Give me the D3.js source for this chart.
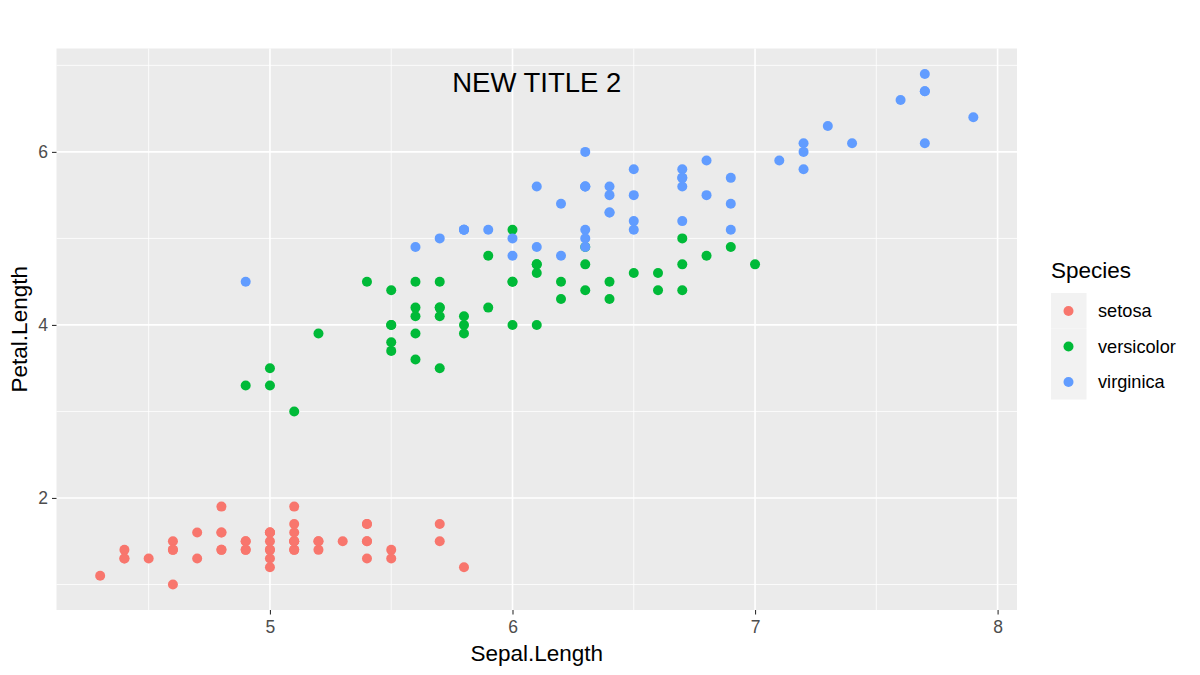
<!DOCTYPE html>
<html><head><meta charset="utf-8">
<script src="https://cdn.jsdelivr.net/npm/d3@7"></script>
<style>body{margin:0;background:#fff}svg{display:block;font-family:"Liberation Sans",Arial,sans-serif}</style>
</head><body><svg id="c" width="1200" height="675"></svg>
<script>
const species = ["setosa","versicolor","virginica"];
const colors = ["#F8766D","#00BA38","#619CFF"];
const setosaSepal = [5.1,4.9,4.7,4.6,5.0,5.4,4.6,5.0,4.4,4.9,5.4,4.8,4.8,4.3,5.8,5.7,5.4,5.1,5.7,5.1,5.4,5.1,4.6,5.1,4.8,5.0,5.0,5.2,5.2,4.7,4.8,5.4,5.2,5.5,4.9,5.0,5.5,4.9,4.4,5.1,5.0,4.5,4.4,5.0,5.1,4.8,5.1,4.6,5.3,5.0];
const setosaPetal = [1.4,1.4,1.3,1.5,1.4,1.7,1.4,1.5,1.4,1.5,1.5,1.6,1.4,1.1,1.2,1.5,1.3,1.4,1.7,1.5,1.7,1.5,1.0,1.7,1.9,1.6,1.6,1.5,1.4,1.6,1.6,1.5,1.5,1.4,1.5,1.2,1.3,1.4,1.3,1.5,1.3,1.3,1.3,1.6,1.9,1.4,1.6,1.4,1.5,1.4];
const versicolorSepal = [7.0,6.4,6.9,5.5,6.5,5.7,6.3,4.9,6.6,5.2,5.0,5.9,6.0,6.1,5.6,6.7,5.6,5.8,6.2,5.6,5.9,6.1,6.3,6.1,6.4,6.6,6.8,6.7,6.0,5.7,5.5,5.5,5.8,6.0,5.4,6.0,6.7,6.3,5.6,5.5,5.5,6.1,5.8,5.0,5.6,5.7,5.7,6.2,5.1,5.7];
const versicolorPetal = [4.7,4.5,4.9,4.0,4.6,4.5,4.7,3.3,4.6,3.9,3.5,4.2,4.0,4.7,3.6,4.4,4.5,4.1,4.5,3.9,4.8,4.0,4.9,4.7,4.3,4.4,4.8,5.0,4.5,3.5,3.8,3.7,3.9,5.1,4.5,4.5,4.7,4.4,4.1,4.0,4.4,4.6,4.0,3.3,4.2,4.2,4.2,4.3,3.0,4.1];
const virginicaSepal = [6.3,5.8,7.1,6.3,6.5,7.6,4.9,7.3,6.7,7.2,6.5,6.4,6.8,5.7,5.8,6.4,6.5,7.7,7.7,6.0,6.9,5.6,7.7,6.3,6.7,7.2,6.2,6.1,6.4,7.2,7.4,7.9,6.3,6.3,6.1,7.7,6.3,6.4,6.0,6.9,6.7,6.9,5.8,6.8,6.7,6.7,6.3,6.5,6.2,5.9];
const virginicaPetal = [6.0,5.1,5.9,5.6,5.8,6.6,4.5,6.3,5.8,6.1,5.1,5.3,5.5,5.0,5.1,5.3,5.5,6.7,6.9,5.0,5.7,4.9,6.7,4.9,5.7,6.0,4.8,4.9,5.6,5.8,6.1,6.4,5.6,5.1,5.6,6.1,5.6,5.5,4.8,5.4,5.6,5.1,5.1,5.9,5.7,5.2,5.0,5.2,5.4,5.1];
const xTicks = [5,6,7,8];
const yTicks = [2,4,6];
const xMinor = [4.5,5.5,6.5,7.5];
const yMinor = [1,3,5,7];
const title = "NEW TITLE 2";

const sepal = [setosaSepal, versicolorSepal, virginicaSepal];
const petal = [setosaPetal, versicolorPetal, virginicaPetal];
const points = [];
species.forEach((s,i)=>sepal[i].forEach((v,j)=>points.push({s:s,i:i,x:v,y:petal[i][j]})));

const svg = d3.select("#c");
const L=56.5, R=1017, T=48.5, B=610;
const xe = (7.9-4.3)*0.05, ye=(6.9-1.0)*0.05;
const x = d3.scaleLinear().domain([4.3-xe,7.9+xe]).range([L,R]);
const y = d3.scaleLinear().domain([1.0-ye,6.9+ye]).range([B,T]);

svg.append("rect").attr("x",L).attr("y",T).attr("width",R-L).attr("height",B-T).attr("fill","#EBEBEB");
const g = svg.append("g");
g.selectAll(".xm").data(xMinor).join("line").attr("x1",d=>x(d)).attr("x2",d=>x(d)).attr("y1",T).attr("y2",B).attr("stroke","#fff").attr("stroke-width",0.8);
g.selectAll(".ym").data(yMinor).join("line").attr("y1",d=>y(d)).attr("y2",d=>y(d)).attr("x1",L).attr("x2",R).attr("stroke","#fff").attr("stroke-width",0.8);
g.selectAll(".xM").data(xTicks).join("line").attr("x1",d=>x(d)).attr("x2",d=>x(d)).attr("y1",T).attr("y2",B).attr("stroke","#fff").attr("stroke-width",1.6);
g.selectAll(".yM").data(yTicks).join("line").attr("y1",d=>y(d)).attr("y2",d=>y(d)).attr("x1",L).attr("x2",R).attr("stroke","#fff").attr("stroke-width",1.6);

svg.append("g").selectAll("circle").data(points).join("circle")
  .attr("cx",d=>x(d.x)).attr("cy",d=>y(d.y)).attr("r",5).attr("fill",d=>colors[d.i]);

// axes
const xa = svg.append("g").attr("transform",`translate(0,${B})`).call(d3.axisBottom(x).tickValues(xTicks).tickSize(4.5).tickPadding(4).tickFormat(d3.format("d")));
const ya = svg.append("g").attr("transform",`translate(${L},0)`).call(d3.axisLeft(y).tickValues(yTicks).tickSize(4.5).tickPadding(4).tickFormat(d3.format("d")));
[xa,ya].forEach(a=>{a.select(".domain").remove();a.selectAll(".tick line").attr("stroke","#333").attr("stroke-width",1.1);
  a.selectAll("text").attr("fill","#4D4D4D").attr("font-size",17.5).attr("font-family","Liberation Sans, Arial, sans-serif");});
xa.selectAll("text").attr("dy","0.8em");

svg.append("text").attr("x",(L+R)/2).attr("y",661).attr("text-anchor","middle").attr("font-size",22.5).text("Sepal.Length");
svg.append("text").attr("transform",`translate(27,${(T+B)/2}) rotate(-90)`).attr("text-anchor","middle").attr("font-size",22.5).text("Petal.Length");
svg.append("text").attr("x",(L+R)/2).attr("y",92).attr("text-anchor","middle").attr("font-size",27.5).text(title);

// legend
svg.append("text").attr("x",1051).attr("y",278).attr("font-size",22.5).text("Species");
const lg = svg.append("g");
lg.selectAll("rect").data(species).join("rect").attr("x",1051).attr("y",(d,i)=>293+i*35.5).attr("width",35.5).attr("height",35.5).attr("fill","#F2F2F2");
lg.selectAll("circle").data(species).join("circle").attr("cx",1068.5).attr("cy",(d,i)=>311+i*35.5).attr("r",5).attr("fill",(d,i)=>colors[i]);
lg.selectAll("text").data(species).join("text").attr("x",1098).attr("y",(d,i)=>311+i*35.5).attr("dy","0.35em").attr("font-size",18.2).text(d=>d);
</script></body></html>
